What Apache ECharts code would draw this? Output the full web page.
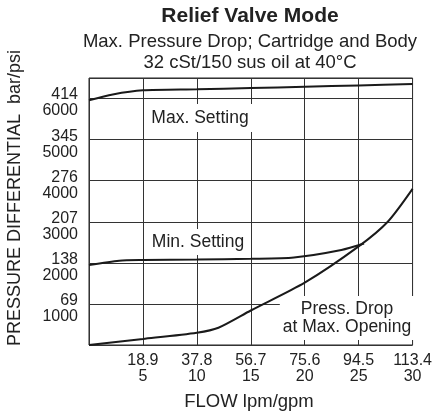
<!DOCTYPE html>
<html>
<head>
<meta charset="utf-8">
<script src="https://cdn.jsdelivr.net/npm/echarts@6/dist/echarts.min.js"></script>
<style>
  html, body { margin: 0; padding: 0; background: #fff; }
  #main { width: 435px; height: 414px; }
</style>
</head>
<body>
<div id="main"></div>
<script>
// flow in gpm, pressure in psi
const gpmTicks = [5, 10, 15, 20, 25, 30];
const lpmLabels = ['18.9', '37.8', '56.7', '75.6', '94.5', '113.4'];
const psiTicks = [1000, 2000, 3000, 4000, 5000, 6000];
const barLabels = ['69', '138', '207', '276', '345', '414'];

const maxSetting = [[0, 5960], [2.2, 6100], [5, 6200], [10, 6225],
  [15, 6255], [20, 6288], [25, 6320], [30, 6352]];
const minSetting = [[0, 1945], [2.8, 2052], [5, 2069], [10, 2082], [15, 2098],
  [19, 2130], [23.4, 2313], [25.5, 2470]];
const pressDrop = [[0, 0], [5, 146], [10, 300], [12, 421], [15, 840],
  [20, 1517], [25, 2400], [27.7, 3000], [30, 3800]];

const font = 'Liberation Sans, Arial, Helvetica, sans-serif';
const chart = echarts.init(document.getElementById('main'));

function curve(name, data) {
  return {
    type: 'line', name: name, data: data,
    smooth: 0.25, showSymbol: false, silent: true,
    lineStyle: { color: '#1a1a1a', width: 2 }
  };
}

function note(text, x, y, pad) {
  return {
    type: 'text', x: x, y: y, z: 1,
    style: {
      text: text, font: '17.5px ' + font, fill: '#222',
      align: 'center', verticalAlign: 'middle', lineHeight: 18,
      backgroundColor: '#fff', padding: pad
    }
  };
}

chart.setOption({
  animation: false,
  title: {
    text: 'Relief Valve Mode',
    subtext: 'Max. Pressure Drop; Cartridge and Body\n32 cSt/150 sus oil at 40°C',
    left: 250, top: 6, textAlign: 'center', padding: 0, itemGap: 4,
    textStyle: { fontFamily: font, fontSize: 21, fontWeight: 'bold', color: '#222' },
    subtextStyle: { fontFamily: font, fontSize: 18.5, color: '#222', lineHeight: 21 }
  },
  grid: { left: 89, right: 15, top: 78, bottom: 69, show: true, borderColor: '#222', borderWidth: 1 },
  xAxis: {
    type: 'value', min: 0, max: 30, interval: 5,
    axisLine: { show: false }, axisTick: { show: false },
    splitLine: { lineStyle: { color: '#333', width: 1 } },
    axisLabel: {
      margin: 8, fontFamily: font, fontSize: 16, color: '#222', lineHeight: 16,
      formatter: v => {
        const i = gpmTicks.indexOf(v);
        return i < 0 ? '' : lpmLabels[i] + '\n' + v;
      }
    }
  },
  yAxis: {
    type: 'value', min: 0, max: 6500, interval: 1000,
    axisLine: { show: false }, axisTick: { show: false },
    splitLine: { lineStyle: { color: '#333', width: 1 } },
    axisLabel: {
      margin: 11, fontFamily: font, fontSize: 16, color: '#222', lineHeight: 16,
      formatter: v => {
        const i = psiTicks.indexOf(v);
        return i < 0 ? '' : '{s| }\n{n|' + barLabels[i] + '}\n{n|' + v + '}';
      },
      rich: {
        s: { fontSize: 1, lineHeight: 9 },
        n: { fontFamily: font, fontSize: 16, color: '#222', lineHeight: 16 }
      }
    }
  },
  graphic: [
    {
      type: 'text', x: 15, y: 198, rotation: Math.PI / 2,
      style: { text: 'PRESSURE DIFFERENTIAL  bar/psi', font: '18px ' + font, fill: '#222',
        align: 'center', verticalAlign: 'middle' }
    },
    {
      type: 'text', x: 249, y: 402,
      style: { text: 'FLOW lpm/gpm', font: '18.5px ' + font, fill: '#222',
        align: 'center', verticalAlign: 'middle' }
    },
    note('Max. Setting', 200, 118, [5, 4]),
    note('Min. Setting', 198, 242, [4, 4]),
    note('Press. Drop\nat Max. Opening', 347, 318, [4, 3])
  ],
  series: [
    curve('Max. Setting', maxSetting),
    curve('Min. Setting', minSetting),
    curve('Press. Drop at Max. Opening', pressDrop)
  ]
});
</script>
</body>
</html>
